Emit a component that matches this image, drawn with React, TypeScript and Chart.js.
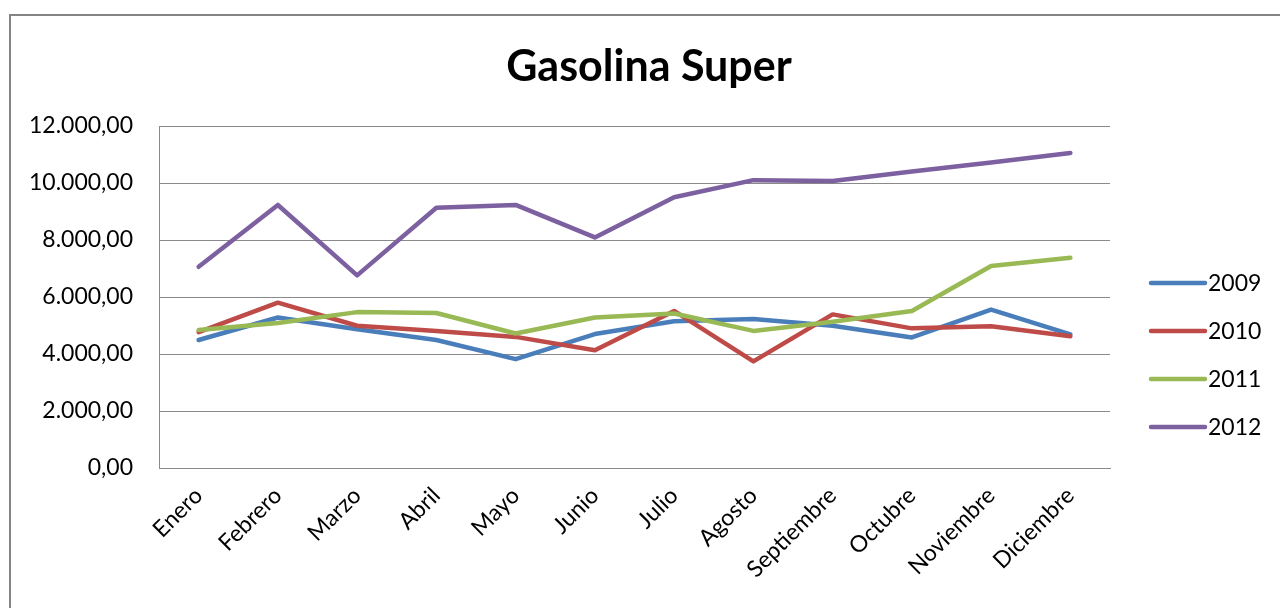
import React, { useEffect, useRef } from "react";
import { Chart, registerables } from "chart.js";

Chart.register(...registerables);

const months = ["Enero", "Febrero", "Marzo", "Abril", "Mayo", "Junio", "Julio", "Agosto", "Septiembre", "Octubre", "Noviembre", "Diciembre"];
const seriesNames = ["2009", "2010", "2011", "2012"];
const values2009 = [4490, 5280, 4870, 4490, 3820, 4700, 5150, 5230, 4990, 4580, 5560, 4690];
const values2010 = [4770, 5800, 4990, 4810, 4600, 4130, 5510, 3740, 5390, 4900, 4970, 4620];
const values2011 = [4840, 5090, 5470, 5440, 4720, 5280, 5420, 4810, 5130, 5510, 7090, 7380];
const values2012 = [7060, 9230, 6760, 9130, 9230, 8090, 9500, 10100, 10070, 10400, 10720, 11050];
const seriesColors = ["#4A7EBB", "#BE4B48", "#98B954", "#7D60A0"];
const chartTitle = "Gasolina Super";

function formatEs(v: number): string {
  const fixed = Math.abs(v).toFixed(2);
  const [intPart, dec] = fixed.split(".");
  const withDots = intPart.replace(/\B(?=(\d{3})+(?!\d))/g, ".");
  return (v < 0 ? "-" : "") + withDots + "," + dec;
}

const FONT = "Lato, 'Open Sans', sans-serif";

const decorPlugin = {
  id: "decor",
  afterDraw(chart: any) {
    const ctx = chart.ctx;
    ctx.save();
    // Title
    ctx.fillStyle = "#000";
    ctx.font = `bold 43px ${FONT}`;
    ctx.textAlign = "center";
    ctx.textBaseline = "alphabetic";
    ctx.fillText(chartTitle, 649, 81);
    // Legend
    chart.data.datasets.forEach((ds: any, i: number) => {
      const y = 283 + i * 48;
      ctx.strokeStyle = ds.borderColor;
      ctx.lineWidth = 4.5;
      ctx.lineCap = "round";
      ctx.beginPath();
      ctx.moveTo(1151, y);
      ctx.lineTo(1205, y);
      ctx.stroke();
      ctx.fillStyle = "#000";
      ctx.font = `23px ${FONT}`;
      ctx.textAlign = "left";
      ctx.textBaseline = "middle";
      ctx.fillText(ds.label, 1208, y + 1);
    });
    ctx.restore();
  },
};

export default function App() {
  const canvasRef = useRef<HTMLCanvasElement | null>(null);

  useEffect(() => {
    if (!canvasRef.current) return;
    const allValues = [values2009, values2010, values2011, values2012];
    const chart = new Chart(canvasRef.current, {
      type: "line",
      data: {
        labels: months,
        datasets: allValues.map((vals, i) => ({
          label: seriesNames[i],
          data: vals,
          borderColor: seriesColors[i],
          backgroundColor: seriesColors[i],
          borderWidth: 4.5,
          pointRadius: 0,
          tension: 0,
          borderCapStyle: "round" as const,
          borderJoinStyle: "round" as const,
          order: 3 - i,
        })),
      },
      options: {
        responsive: false,
        animation: false,
        devicePixelRatio: 1,
        layout: { padding: { top: 126, right: 170, bottom: 0, left: 0 } },
        plugins: {
          legend: { display: false },
          title: { display: false },
          tooltip: { enabled: false },
        },
        scales: {
          x: {
            offset: true,
            grid: { display: false, drawTicks: false },
            border: { display: true, color: "#8A8A8A", width: 1 },
            ticks: {
              autoSkip: false,
              minRotation: 45,
              maxRotation: 45,
              padding: 14,
              color: "#000",
              font: { family: FONT, size: 23 },
            },
            afterFit: (s: any) => {
              s.height = 140;
            },
          },
          y: {
            min: 0,
            max: 12000,
            grid: { color: "#8A8A8A", lineWidth: 1, drawTicks: false },
            border: { display: true, color: "#8A8A8A", width: 1 },
            ticks: {
              stepSize: 2000,
              padding: 26,
              color: "#000",
              font: { family: FONT, size: 23 },
              callback: (v: any) => formatEs(Number(v)),
            },
            afterFit: (s: any) => {
              s.width = 159;
            },
          },
        },
      },
      plugins: [decorPlugin],
    });
    return () => chart.destroy();
  }, []);

  return (
    <div style={{ position: "fixed", left: 0, top: 0, width: 1280, height: 608, background: "#fff", overflow: "hidden" }}>
      <canvas ref={canvasRef} width={1280} height={608} style={{ position: "absolute", left: 0, top: 0, width: 1280, height: 608 }} />
      <div
        style={{
          position: "absolute",
          left: 9,
          top: 14,
          width: 1400,
          height: 800,
          border: "2px solid #858585",
          pointerEvents: "none",
        }}
      />
    </div>
  );
}
